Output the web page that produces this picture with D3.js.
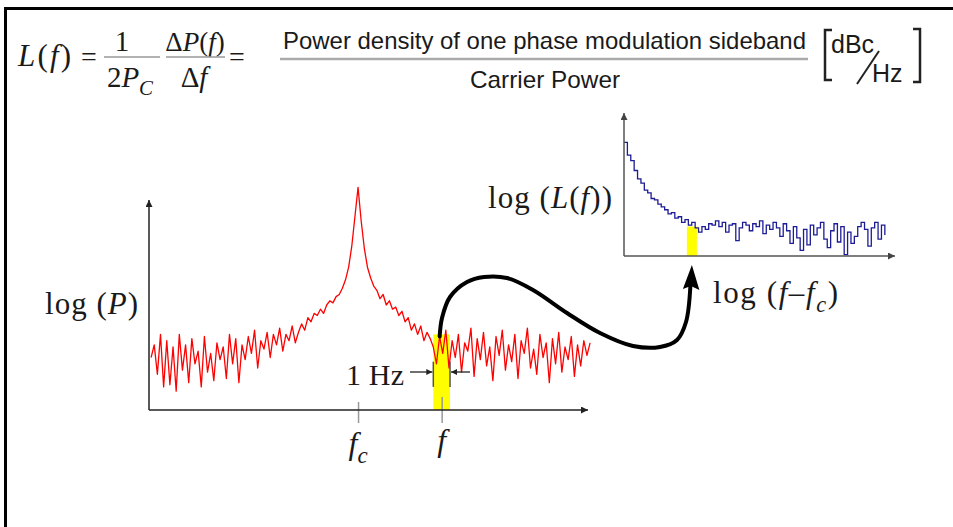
<!DOCTYPE html>
<html>
<head>
<meta charset="utf-8">
<script src="https://cdn.jsdelivr.net/npm/d3@7"></script>
<style>
  body { margin: 0; background: #fff; }
  svg { display: block; }
  .serif { font-family: "Liberation Serif", "Times New Roman", serif; }
  .sans { font-family: "Liberation Sans Narrow", "Liberation Sans", Arial, sans-serif; }
</style>
</head>
<body>
<script>
// main spectrum, offset from the carrier, one sample every 1.5 units starting at -99
const spectrumStart = -99, spectrumStep = 1.5;
const spectrumPower = [
  25, 31, 17, 36, 11, 33, 12, 30, 9, 36, 19, 31, 13, 34, 22, 28, 11, 35, 18, 27,
  14, 32, 24, 30, 15, 36, 22, 34, 13, 31,
  24, 35, 27, 38, 20, 33, 29, 37, 25, 36, 31, 39, 28, 36, 33, 40, 32, 37,
  41, 38, 44, 42, 46, 45,
  48, 46, 50, 52, 51, 54, 55, 58,
  62, 68, 78, 92,
  106,
  90, 77, 68, 63,
  59, 57, 53, 55, 50, 52, 48, 49,
  45, 47, 42, 44, 38, 41, 36, 40, 33, 37, 34,
  30, 22, 35, 27, 38, 20, 33, 25, 36, 18, 32, 28, 39, 16, 34, 24, 37, 21, 30, 14,
  35, 26, 38, 19, 31, 23, 36, 15, 33, 27, 39, 20, 29, 17, 36, 25, 32, 13, 34, 22,
  37, 18, 30, 24, 35, 16, 31, 21, 33, 26, 32
];
const carrierFreq = 0;
const sidebandFreq = 40;
const sidebandBand = [36, 44];   // the 1 Hz slice
const sidebandTop = 36;

// inset: single sideband noise on a log offset axis, steps of 1.25
const ssbStart = 0, ssbStep = 1.25;
const ssbNoise = [
  81, 72, 68, 61, 55, 52, 47, 45, 41, 40, 37, 35, 33, 30, 31, 27, 28, 24, 26, 22,
  24, 20, 17, 21,
  19, 23, 22, 25, 21, 24, 17, 22, 23, 11, 20, 24, 22, 18, 23, 21, 25, 16, 22, 19,
  24, 20, 14, 23, 18, 9, 21, 13, 4, 19, 8, 22, 15, 20, 24, 12, 6, 18, 23, 10,
  21, 1, 17, 9, 14, 21, 24, 19, 7, 20, 24, 12, 22, 15
];
const ssbBand = [23.2, 26.9];
const ssbBandTop = 21;

const W = 953, H = 527;
const svg = d3.select('body').append('svg').attr('width', W).attr('height', H);

// frame, only top and left edges show
svg.append('path')
    .attr('d', 'M5.5,527V8.5H953')
    .attr('fill', 'none').attr('stroke', '#000').attr('stroke-width', 3);

const defs = svg.append('defs');
function arrowMarker(id, color, w, h) {
    defs.append('marker')
        .attr('id', id)
        .attr('viewBox', '0 0 10 10')
        .attr('refX', 10).attr('refY', 5)
        .attr('markerWidth', w).attr('markerHeight', h)
        .attr('markerUnits', 'userSpaceOnUse')
        .attr('orient', 'auto')
      .append('path')
        .attr('d', 'M0,0L10,5L0,10Z')
        .attr('fill', color);
}
arrowMarker('axis-arrow', '#222', 10, 7);
arrowMarker('inset-arrow', '#444', 10, 7);
arrowMarker('hz-arrow', '#222', 8, 6);

function mathText(xPos, yPos, parts, size, anchor, len) {
    const t = svg.append('text')
        .attr('class', 'serif')
        .attr('x', xPos).attr('y', yPos)
        .attr('font-size', size)
        .attr('text-anchor', anchor || 'start')
        .attr('fill', '#1a1a1a');
    let shift = 0;
    parts.forEach(([s, k]) => {
        const sub = k === 'sub';
        const ts = t.append('tspan').text(s)
            .attr('font-style', k === 'n' ? 'normal' : 'italic');
        const target = sub ? size * 0.28 : 0;
        if (target !== shift) { ts.attr('dy', target - shift); shift = target; }
        if (sub) ts.attr('font-size', size * 0.72);
    });
    if (len) t.attr('textLength', len).attr('lengthAdjust', 'spacing');
    return t;
}

// ---------- formula ----------
const bar = (x1, x2, yy, w, c) => svg.append('line')
    .attr('x1', x1).attr('x2', x2).attr('y1', yy).attr('y2', yy)
    .attr('stroke', c).attr('stroke-width', w);

mathText(18, 66, [['L', 'i'], ['(', 'n'], ['f', 'i'], [')', 'n']], 31, 'start', 53);
mathText(89, 66, [['=', 'n']], 28, 'middle');
mathText(122, 51, [['1', 'n']], 29, 'middle');
bar(104, 160, 57, 1.5, '#999');
mathText(130, 87, [['2', 'n'], ['P', 'i'], ['C', 'sub']], 29, 'middle', 46);
mathText(195, 51, [['\u0394', 'n'], ['P', 'i'], ['(', 'n'], ['f', 'i'], [')', 'n']], 27, 'middle');
bar(166, 225, 57, 1.5, '#999');
mathText(194, 87, [['\u0394', 'n'], ['f', 'i']], 29, 'middle');
mathText(237, 66, [['=', 'n']], 28, 'middle');

svg.append('text').attr('class', 'sans')
    .attr('x', 283).attr('y', 49).attr('font-size', 24).attr('fill', '#1a1a1a')
    .attr('textLength', 523).attr('lengthAdjust', 'spacingAndGlyphs')
    .text('Power density of one phase modulation sideband');
bar(280, 808, 59, 2.5, '#aaa');
svg.append('text').attr('class', 'sans')
    .attr('x', 545).attr('y', 88).attr('font-size', 24).attr('fill', '#1a1a1a')
    .attr('text-anchor', 'middle')
    .attr('textLength', 150).attr('lengthAdjust', 'spacingAndGlyphs')
    .text('Carrier Power');

// [dBc/Hz]
svg.append('path').attr('d', 'M832,30H825V80H832')
    .attr('fill', 'none').attr('stroke', '#222').attr('stroke-width', 2.5);
svg.append('path').attr('d', 'M913,29H920V82H913')
    .attr('fill', 'none').attr('stroke', '#222').attr('stroke-width', 2.5);
svg.append('text').attr('class', 'sans')
    .attr('x', 831).attr('y', 53).attr('font-size', 25).attr('fill', '#1a1a1a')
    .text('dBc');
svg.append('line').attr('x1', 857).attr('y1', 84).attr('x2', 879).attr('y2', 51)
    .attr('stroke', '#222').attr('stroke-width', 2);
svg.append('text').attr('class', 'sans')
    .attr('x', 872).attr('y', 82).attr('font-size', 25).attr('fill', '#1a1a1a')
    .text('Hz');

// ---------- main spectrum ----------
const x = d3.scaleLinear().domain([-100, 110]).range([149, 588]);
const y = d3.scaleLinear().domain([0, 100]).range([410, 200]);

// 1 Hz slice
svg.append('rect')
    .attr('x', x(sidebandBand[0])).attr('width', x(sidebandBand[1]) - x(sidebandBand[0]))
    .attr('y', y(sidebandTop)).attr('height', y(0) - y(sidebandTop))
    .attr('fill', '#ffff00');

const redLine = d3.line()
    .x((d, i) => x(spectrumStart + i * spectrumStep))
    .y(d => y(d));
svg.append('path')
    .datum(spectrumPower)
    .attr('d', redLine)
    .attr('fill', 'none').attr('stroke', '#ff0000')
    .attr('stroke-width', 1.3).attr('stroke-linejoin', 'round');

// slice edges
sidebandBand.forEach(b => svg.append('line')
    .attr('x1', x(b)).attr('x2', x(b)).attr('y1', y(23)).attr('y2', y(11))
    .attr('stroke', '#555').attr('stroke-width', 1.5));

// ticks at fc and f
const xAxis = svg.append('g')
    .attr('transform', `translate(0,${y(0)})`)
    .call(d3.axisBottom(x).tickValues([carrierFreq, sidebandFreq]).tickSize(13).tickFormat(''));
xAxis.select('.domain').remove();
xAxis.selectAll('.tick line')
    .attr('y1', d => d === carrierFreq ? -8 : -13)
    .attr('stroke', '#999').attr('stroke-width', 1.5);

// axes with arrow heads
svg.append('line')
    .attr('x1', x.range()[0]).attr('x2', x.range()[1]).attr('y1', y(0)).attr('y2', y(0))
    .attr('stroke', '#222').attr('stroke-width', 1.5).attr('marker-end', 'url(#axis-arrow)');
svg.append('line')
    .attr('x1', x.range()[0]).attr('x2', x.range()[0]).attr('y1', y(0)).attr('y2', y.range()[1])
    .attr('stroke', '#222').attr('stroke-width', 1.5).attr('marker-end', 'url(#axis-arrow)');

mathText(x(carrierFreq), 454, [['f', 'i'], ['c', 'sub']], 32, 'middle');
mathText(x(sidebandFreq), 451, [['f', 'i']], 32, 'middle');
mathText(45, 314, [['log (', 'n'], ['P', 'i'], [')', 'n']], 31, 'start', 93);
mathText(404, 385, [['1 Hz', 'n']], 30, 'end', 58);

// 1 Hz arrows
svg.append('line').attr('x1', 410).attr('x2', x(sidebandBand[0]) - 1).attr('y1', 372).attr('y2', 372)
    .attr('stroke', '#222').attr('stroke-width', 1.3).attr('marker-end', 'url(#hz-arrow)');
svg.append('line').attr('x1', 470).attr('x2', x(sidebandBand[1]) + 1).attr('y1', 372).attr('y2', 372)
    .attr('stroke', '#222').attr('stroke-width', 1.3).attr('marker-end', 'url(#hz-arrow)');

// ---------- inset: L(f) ----------
const xi = d3.scaleLinear().domain([0, 100]).range([624, 895]);
const yi = d3.scaleLinear().domain([0, 102]).range([256, 113]);

svg.append('rect')
    .attr('x', xi(ssbBand[0])).attr('width', xi(ssbBand[1]) - xi(ssbBand[0]))
    .attr('y', yi(ssbBandTop)).attr('height', yi(0) - yi(ssbBandTop))
    .attr('fill', '#ffff00');

const blueLine = d3.line()
    .x((d, i) => xi(ssbStart + i * ssbStep))
    .y(d => yi(d))
    .curve(d3.curveStepAfter);
svg.append('path')
    .datum(ssbNoise)
    .attr('d', blueLine)
    .attr('fill', 'none').attr('stroke', '#1c1c96')
    .attr('stroke-width', 1.3);

svg.append('line')
    .attr('x1', xi.range()[0]).attr('x2', xi.range()[1]).attr('y1', yi(0)).attr('y2', yi(0))
    .attr('stroke', '#555').attr('stroke-width', 1.5).attr('marker-end', 'url(#inset-arrow)');
svg.append('line')
    .attr('x1', xi.range()[0]).attr('x2', xi.range()[0]).attr('y1', yi(0)).attr('y2', yi.range()[1])
    .attr('stroke', '#555').attr('stroke-width', 1.5).attr('marker-end', 'url(#inset-arrow)');

mathText(488, 208, [['log (', 'n'], ['L', 'i'], ['(', 'n'], ['f', 'i'], ['))', 'n']], 31, 'start', 124);
mathText(713, 303, [['log (', 'n'], ['f', 'i'], ['\u2013', 'n'], ['f', 'i'], ['c', 'sub'], [')', 'n']], 31, 'start', 125);

// ---------- connecting arrow ----------
const ssbMid = (ssbBand[0] + ssbBand[1]) / 2;
const curvePts = [
    [x(sidebandFreq) - 2, y(35)],
    [442, 318], [450, 297], [467, 282], [484, 277], [507, 278], [533, 290],
    [567, 313], [600, 333], [633, 346], [660, 347], [677, 340], [686, 322],
    [xi(ssbMid) - 1.5, 286]
];
svg.append('path')
    .attr('d', d3.line().curve(d3.curveCatmullRom)(curvePts))
    .attr('fill', 'none').attr('stroke', '#000').attr('stroke-width', 4)
    .attr('stroke-linecap', 'round');
const tipX = xi(ssbMid), tipY = yi(0) + 9;
svg.append('path')
    .attr('d', `M${tipX},${tipY}L${tipX + 7.5},${tipY + 25}L${tipX - 1},${tipY + 21}L${tipX - 9},${tipY + 24}Z`)
    .attr('fill', '#000');
</script>
</body>
</html>
